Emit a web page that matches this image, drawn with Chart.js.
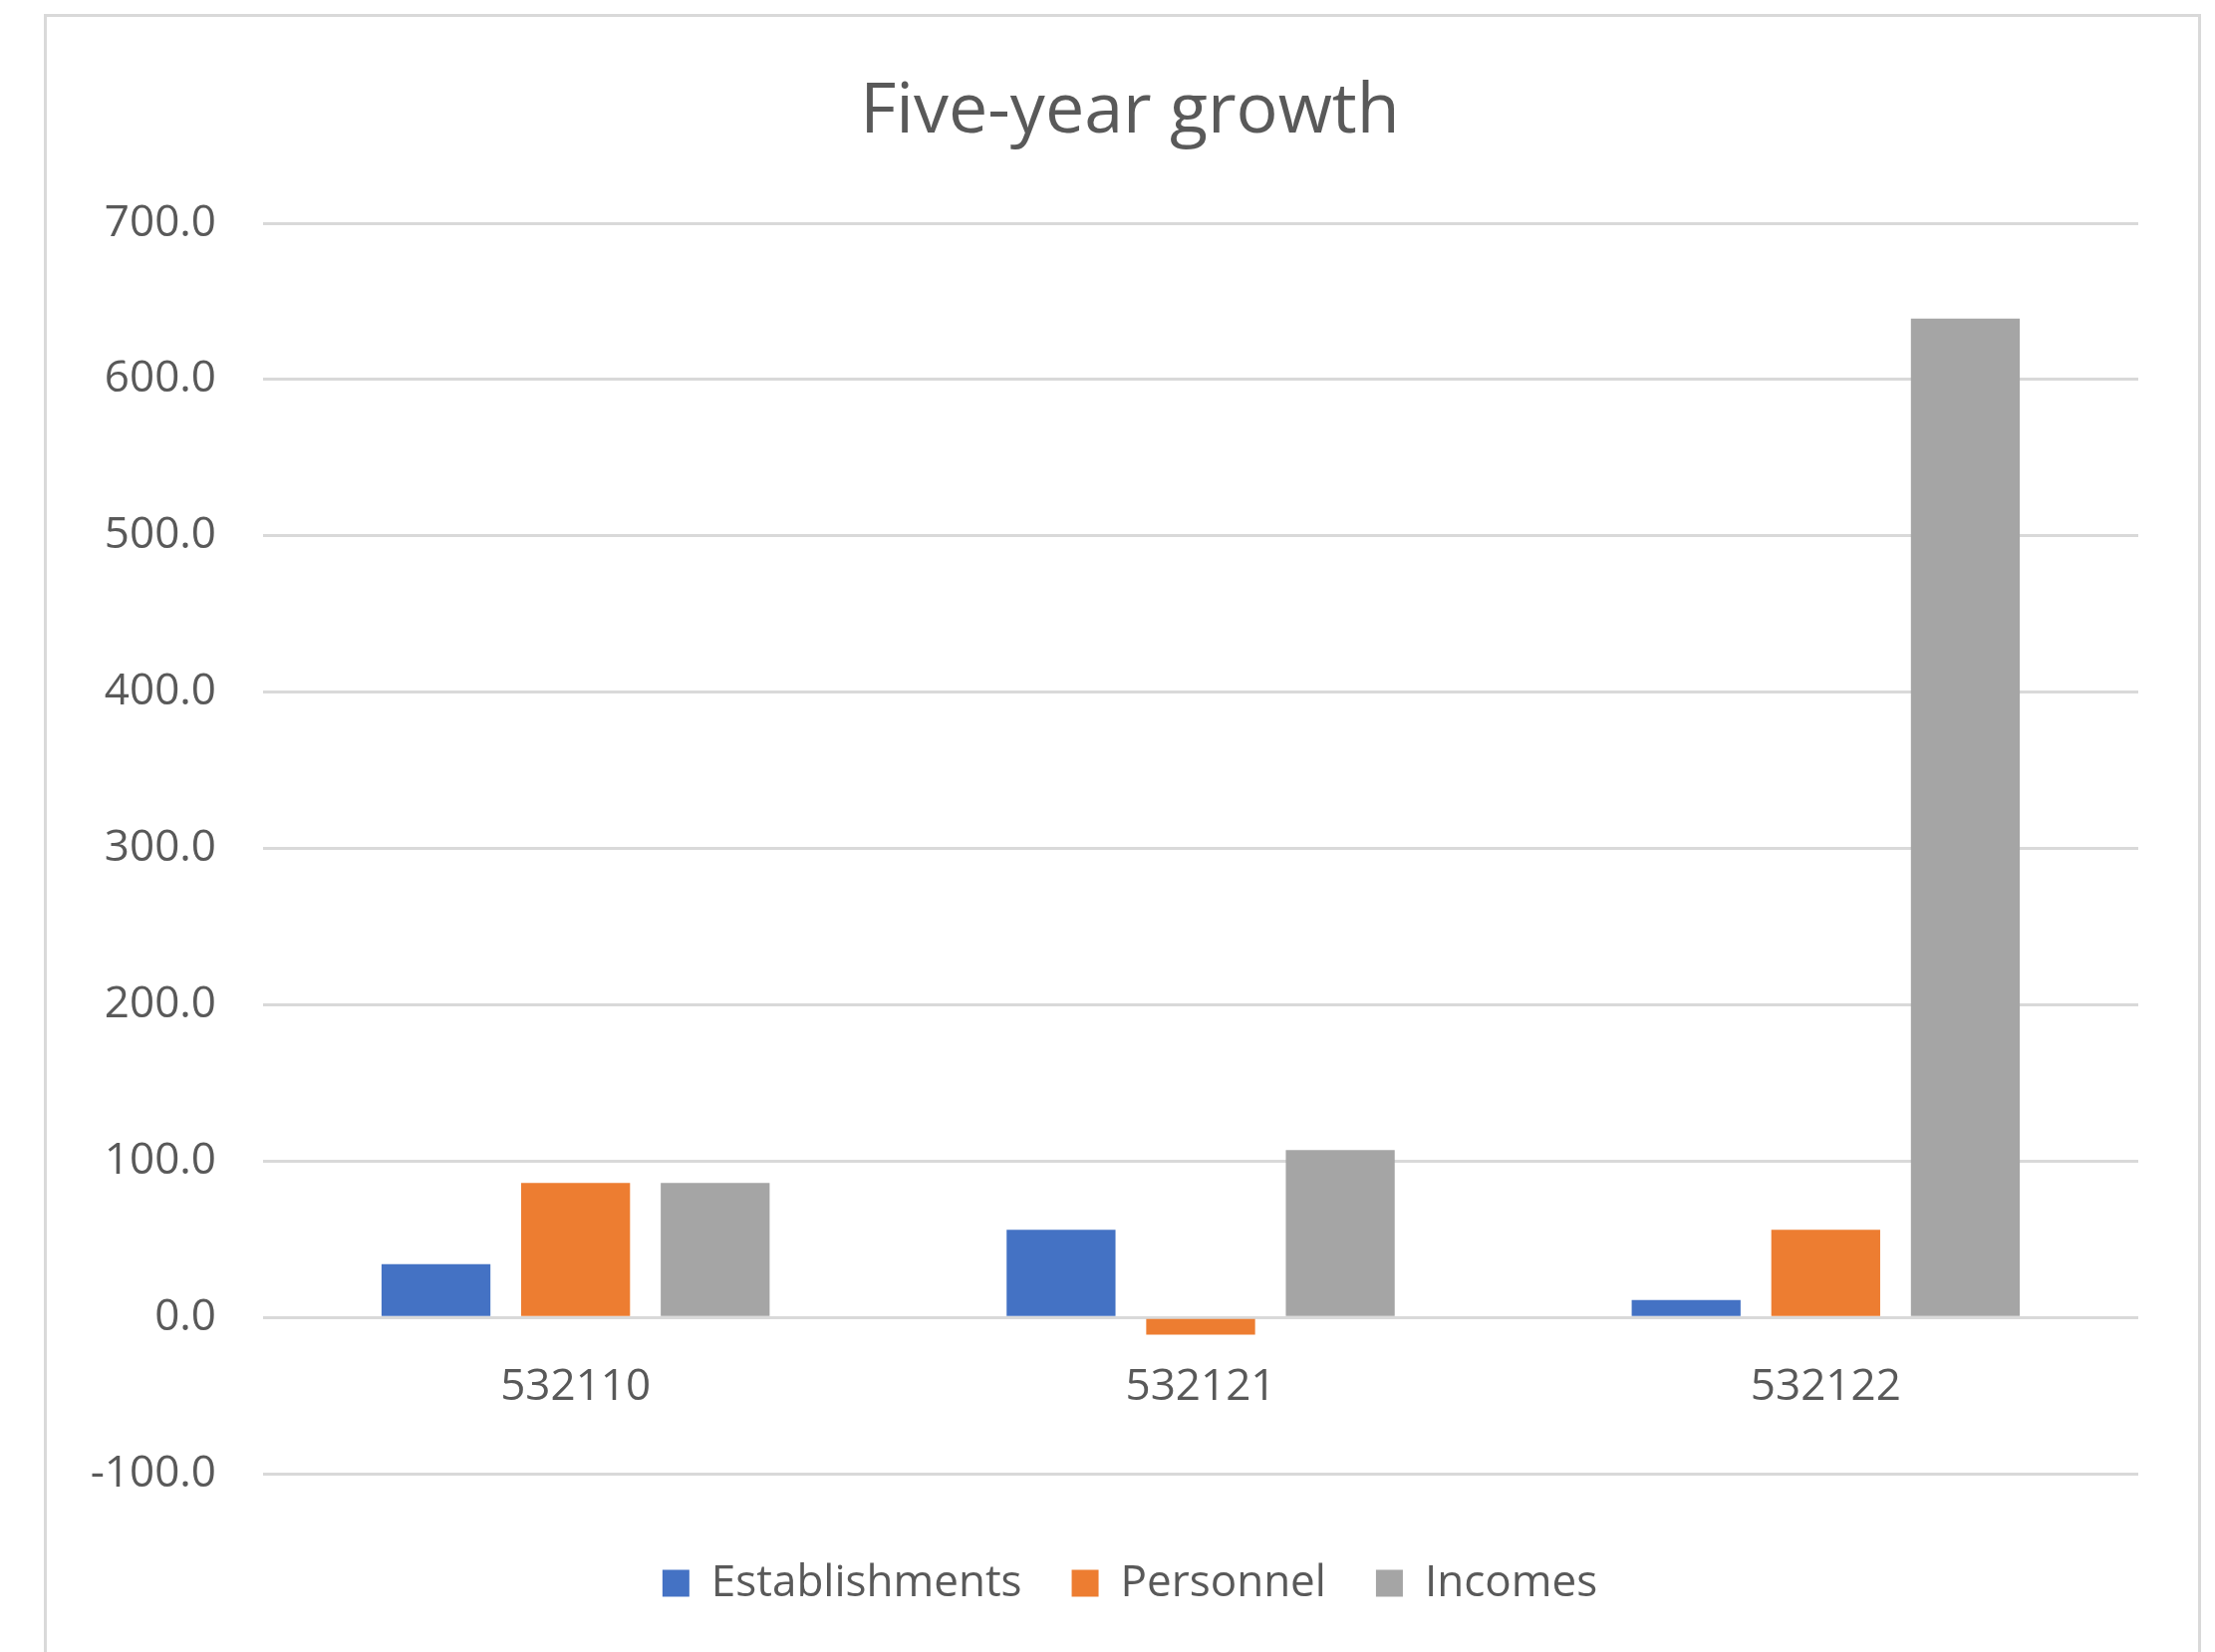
<!DOCTYPE html>
<html>
<head>
<meta charset="utf-8">
<script src="https://cdn.jsdelivr.net/npm/chart.js@4.4.1/dist/chart.umd.min.js"></script>
<style>
    html, body { margin: 0; padding: 0; background: #ffffff; }
    #wrap { position: relative; width: 2223px; height: 1658px; overflow: hidden; }
    #frame {
        position: absolute; left: 44px; top: 14px; width: 2165px; height: 1700px;
        border: 3px solid #d9d9d9; box-sizing: border-box;
    }
    #box { position: absolute; left: 0; top: 0; width: 2223px; height: 1658px; }
</style>
</head>
<body>
<div id="wrap">
    <div id="frame"></div>
    <div id="box"><canvas id="chart-growth"></canvas></div>
</div>
<script>
// Datos del gráfico
const categorias = ['532110', '532121', '532122'];
const establecimientos = [34, 56, 11];
const personal = [86, -11, 56];
const ingresos = [86, 107, 639];
const seriesNombres = ['Establishments', 'Personnel', 'Incomes'];
const ejeY = { min: -100, max: 700, paso: 100 };

document.addEventListener('DOMContentLoaded', function() {
    initGrowthChart();
});

// Evita que las etiquetas del eje Y se recorten al borde izquierdo de la escala
const ejeIzquierdoLibre = {
    id: 'ejeIzquierdoLibre',
    afterLayout: function(chart) {
        chart.scales.y.left = 0;
    }
};

function initGrowthChart() {
    const ctx = document.getElementById('chart-growth');
    if (!ctx) return;

    const fuente = "'Open Sans', sans-serif";
    const gris = '#595959';

    new Chart(ctx, {
        type: 'bar',
        data: {
            labels: categorias,
            datasets: [
                { label: seriesNombres[0], data: establecimientos, backgroundColor: '#4472C4' },
                { label: seriesNombres[1], data: personal, backgroundColor: '#ED7D31' },
                { label: seriesNombres[2], data: ingresos, backgroundColor: '#A5A5A5' }
            ]
        },
        options: {
            responsive: true,
            maintainAspectRatio: false,
            animation: false,
            categoryPercentage: 0.67,
            barPercentage: 0.78,
            layout: {
                padding: { left: 122, right: 77, top: 0, bottom: 37 }
            },
            plugins: {
                title: {
                    display: true,
                    text: 'Five-year growth',
                    color: gris,
                    font: { family: fuente, size: 70, weight: 'normal' },
                    padding: { top: 71, bottom: 69 }
                },
                legend: {
                    display: true,
                    position: 'bottom',
                    labels: {
                        color: gris,
                        font: { family: fuente, size: 44 },
                        boxWidth: 27,
                        boxHeight: 27,
                        padding: 50
                    }
                },
                tooltip: { enabled: false }
            },
            scales: {
                x: {
                    position: { y: 0 },
                    grid: { display: false },
                    border: { display: false },
                    ticks: {
                        color: gris,
                        font: { family: fuente, size: 44 },
                        padding: 36
                    }
                },
                // eje vacío: solo deja espacio entre el área y la leyenda
                xEspacio: {
                    type: 'category',
                    position: 'bottom',
                    grid: { display: false },
                    border: { display: false },
                    ticks: { display: false },
                    afterFit: function(escala) {
                        escala.height = 38;
                    }
                },
                y: {
                    min: ejeY.min,
                    max: ejeY.max,
                    border: { display: false },
                    grid: {
                        color: '#d9d9d9',
                        lineWidth: 3,
                        drawTicks: false
                    },
                    ticks: {
                        stepSize: ejeY.paso,
                        color: gris,
                        font: { family: fuente, size: 44 },
                        padding: 47,
                        callback: function(valor) {
                            return Number(valor).toFixed(1);
                        }
                    },
                    afterFit: function(escala) {
                        escala.width = 142;
                    }
                }
            }
        },
        plugins: [ejeIzquierdoLibre]
    });
}
</script>
</body>
</html>
